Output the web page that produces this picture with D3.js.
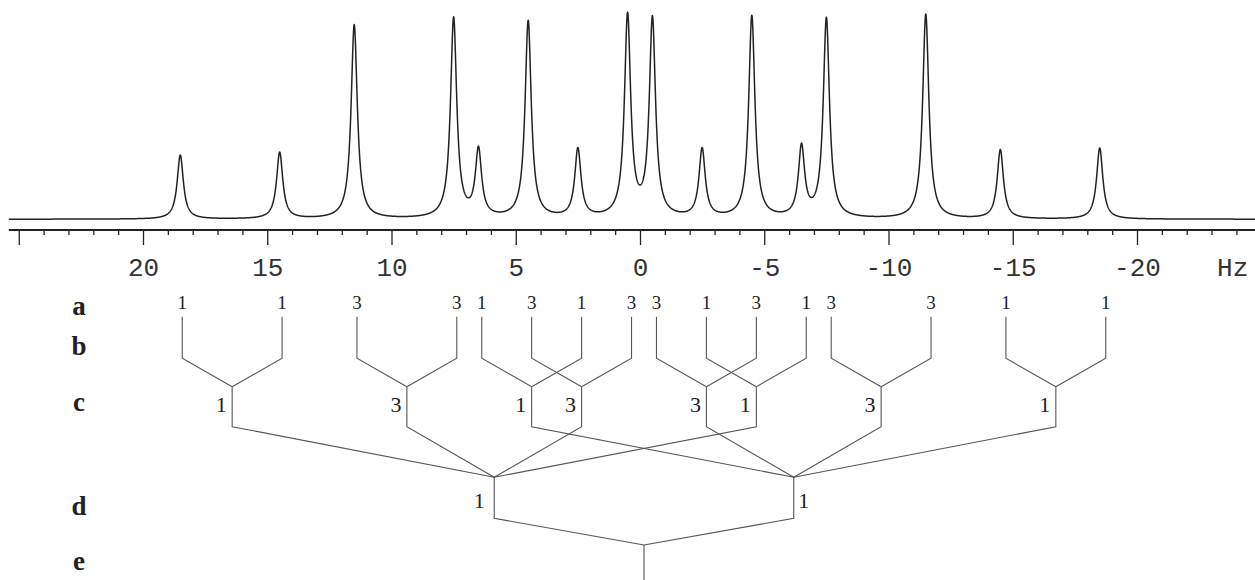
<!DOCTYPE html>
<html>
<head>
<meta charset="utf-8">
<script src="https://cdn.jsdelivr.net/npm/d3@7/dist/d3.min.js"></script>
<style>
  html, body { margin: 0; padding: 0; background: #fff; }
  svg { display: block; }
</style>
</head>
<body>
<svg id="chart" width="1255" height="580"></svg>
<script>
// ---------------- DATA ----------------
// Spectrum peaks (Hz) and their heights (arbitrary units)
const peakHz     = [18.5, 14.5, 11.5, 7.5, 6.5, 4.5, 2.5, 0.5, -0.5, -2.5, -4.5, -6.5, -7.5, -11.5, -14.5, -18.5];
const peakHeight = [64, 66.5, 194, 200, 67, 197, 68.5, 201.5, 198, 68.5, 202, 70, 199.5, 204.5, 69, 71];
const peakHalfWidthHz = 0.15;

// Axis ticks (Hz)
const majorTicks = [25, 20, 15, 10, 5, 0, -5, -10, -15, -20];
const tickLabels = ["", "20", "15", "10", "5", "0", "-5", "-10", "-15", "-20"];
const minorTicks = [24,23,22,21,19,18,17,16,14,13,12,11,9,8,7,6,4,3,2,1,
                    -1,-2,-3,-4,-6,-7,-8,-9,-11,-12,-13,-14,-16,-17,-18,-19,-21,-22,-23,-24];
const unitLabel = "Hz";

// Splitting tree
const rowLabels = ["a", "b", "c", "d", "e"];
const lineHz = peakHz;                                     // level a lines
const lineIntensity = [1, 1, 3, 3, 1, 3, 1, 3, 3, 1, 3, 1, 3, 3, 1, 1];
const lineParent = [0, 0, 1, 1, 2, 3, 2, 3, 4, 5, 4, 5, 6, 6, 7, 7];   // index into cNodeHz
const cNodeHz = [16.5, 9.5, 4.5, 2.5, -2.5, -4.5, -9.5, -16.5];
const cNodeIntensity = [1, 3, 1, 3, 3, 1, 3, 1];
const cParent = [0, 0, 1, 0, 1, 0, 1, 1];                   // index into dNodeHz
const dNodeHz = [6, -6];
const dNodeIntensity = [1, 1];
const eNodeHz = [0];

// ---------------- LAYOUT ----------------
const svg = d3.select("#chart");
const x = d3.scaleLinear().domain([20, -20]).range([143, 1137]);      // spectrum / axis
const xt = d3.scaleLinear().domain([20, -20]).range([144.8, 1143.2]);  // splitting tree
const y = d3.scaleLinear().domain([0, 200]).range([219.3, 19.3]);

const axisY = 230;

// ---------------- SPECTRUM ----------------
const samples = d3.range(25.4, -25.3, -0.01);
const spec = samples.map(h => {
  let s = 0;
  for (let i = 0; i < peakHz.length; i++) {
    const d = (h - peakHz[i]) / peakHalfWidthHz;
    s += peakHeight[i] / (1 + d * d);
  }
  return [h, s];
});
svg.append("path")
  .datum(spec)
  .attr("fill", "none")
  .attr("stroke", "#222")
  .attr("stroke-width", 1.5)
  .attr("stroke-linejoin", "round")
  .attr("d", d3.line().x(d => x(d[0])).y(d => y(d[1])));

// ---------------- AXIS ----------------
const gAxis = svg.append("g").attr("transform", `translate(0,${axisY})`);
gAxis.call(d3.axisBottom(x).tickValues(majorTicks).tickSize(15).tickFormat((d, i) => tickLabels[i]));
const gMinor = svg.append("g").attr("transform", `translate(0,${axisY})`);
gMinor.call(d3.axisBottom(x).tickValues(minorTicks).tickSize(5).tickFormat(""));
[gAxis, gMinor].forEach(g => {
  g.select(".domain").remove();
  g.selectAll(".tick line").attr("stroke", "#222").attr("stroke-width", 1.3);
});
gAxis.selectAll(".tick text")
  .attr("y", 46).attr("dy", 0)
  .attr("font-family", "'Liberation Mono', 'DejaVu Sans Mono', monospace")
  .attr("font-size", 26)
  .attr("fill", "#333");
svg.append("line")
  .attr("x1", x(25.4)).attr("x2", 1255)
  .attr("y1", axisY).attr("y2", axisY)
  .attr("stroke", "#222").attr("stroke-width", 1.8);
svg.append("text")
  .attr("x", x(-23.85)).attr("y", axisY + 46)
  .attr("text-anchor", "middle")
  .attr("font-family", "'Liberation Mono', 'DejaVu Sans Mono', monospace")
  .attr("font-size", 26).attr("fill", "#333")
  .text(unitLabel);

// ---------------- TREE ----------------
const yA = 316.7, yB = 358.3, yC = 386.7, yC2 = 426.7, yD = 477.3, yD2 = 518.3, yE = 545, yE2 = 580;
const gT = svg.append("g").attr("stroke", "#555").attr("stroke-width", 1.1).attr("fill", "none");

// level a lines: vertical then diagonal to c node
lineHz.forEach((h, i) => {
  const p = cNodeHz[lineParent[i]];
  gT.append("path").attr("d", `M${xt(h)},${yA}L${xt(h)},${yB}L${xt(p)},${yC}`);
});
// c nodes: vertical then diagonal to d node
cNodeHz.forEach((h, i) => {
  const p = dNodeHz[cParent[i]];
  gT.append("path").attr("d", `M${xt(h)},${yC}L${xt(h)},${yC2}L${xt(p)},${yD}`);
});
// d nodes: vertical then diagonal to e node
dNodeHz.forEach(h => {
  gT.append("path").attr("d", `M${xt(h)},${yD}L${xt(h)},${yD2}L${xt(eNodeHz[0])},${yE}`);
});
// e node vertical
eNodeHz.forEach(h => {
  gT.append("path").attr("d", `M${xt(h)},${yE}L${xt(h)},${yE2}`);
});

const serif = "'Liberation Serif', 'DejaVu Serif', serif";
const gL = svg.append("g").attr("font-family", serif).attr("fill", "#222");
lineHz.forEach((h, i) => {
  gL.append("text").attr("x", xt(h)).attr("y", 308.5).attr("text-anchor", "middle")
    .attr("font-size", 19).text(lineIntensity[i]);
});
cNodeHz.forEach((h, i) => {
  gL.append("text").attr("x", xt(h) - 11).attr("y", 412).attr("text-anchor", "middle")
    .attr("font-size", 22).text(cNodeIntensity[i]);
});
dNodeHz.forEach((h, i) => {
  const dx = i === 0 ? -15 : 10;
  gL.append("text").attr("x", xt(h) + dx).attr("y", 508).attr("text-anchor", "middle")
    .attr("font-size", 22).text(dNodeIntensity[i]);
});

const rowY = [315, 355, 410.7, 515, 570];
rowLabels.forEach((l, i) => {
  gL.append("text").attr("x", 79).attr("y", rowY[i]).attr("text-anchor", "middle")
    .attr("font-size", 27).attr("font-weight", "bold").text(l);
});
</script>
</body>
</html>
